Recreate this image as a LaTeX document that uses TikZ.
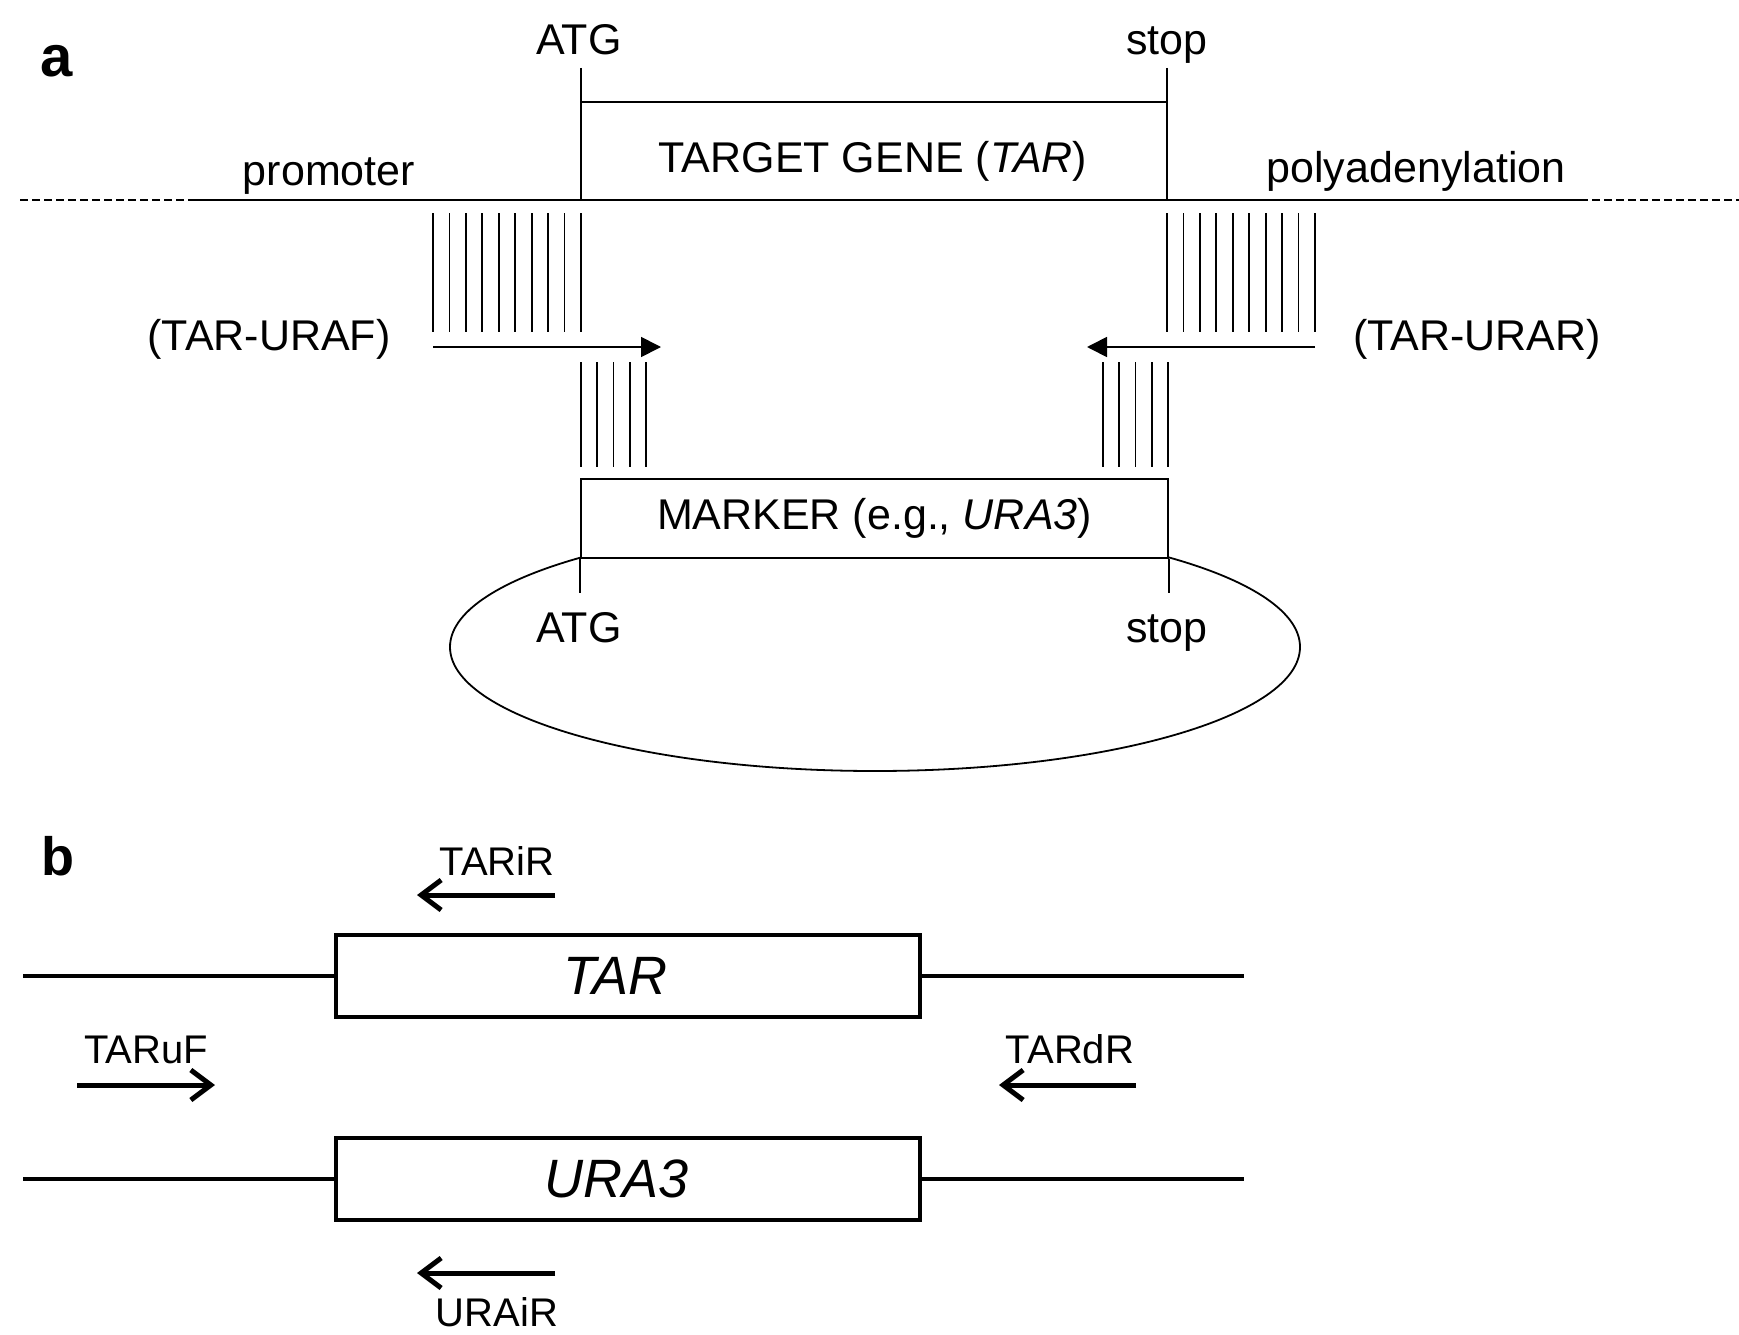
\documentclass[tikz,border=0pt]{standalone}
\usepackage{fontspec}
\setmainfont{Liberation Sans}
\usetikzlibrary{arrows.meta, positioning}
\tikzset{
  lbl/.style={
    inner sep=0pt,
    anchor=base,
    font=\fontsize{43}{50}\selectfont
  },
  primerlbl/.style={
    lbl,
    font=\fontsize{40}{46}\selectfont
  },
  panellbl/.style={
    inner sep=0pt,
    anchor=base,
    font=\bfseries\fontsize{58}{64}\selectfont
  },
  dnaline/.style={
    line width=1.8pt
  },
  hatchline/.style={
    line width=1.8pt
  },
  thickline/.style={
    line width=3.5pt
  },
  markerbox/.style={
    draw,
    fill=white,
    line width=1.8pt,
    inner sep=0pt,
    minimum width=587pt,
    minimum height=79pt,
    font=\fontsize{43}{50}\selectfont
  },
  genebox/.style={
    draw,
    fill=white,
    line width=3.5pt,
    inner sep=0pt,
    minimum width=584pt,
    minimum height=82pt,
    font=\itshape\fontsize{54}{60}\selectfont
  },
  primerarrow/.style={
    -{Triangle[length=20pt, width=20pt]},
    line width=1.8pt
  },
  oligoarrow/.style={
    -{Straight Barb[length=20pt, width=30pt]},
    line width=5pt
  }
}

\begin{document}
\begin{tikzpicture}[x=1pt, y=-1pt]
\useasboundingbox (0,0) rectangle (1739,1335);

% panel a
\node[panellbl] (pa) at (57,77) {a};

\node[lbl] (atgtop) at (579,55) {ATG};
\node[lbl] (stoptop) at (1167,55) {stop};

\coordinate (atgA) at (581,68);
\coordinate (atgB) at (581,200);
\coordinate (stopA) at (1167,68);
\coordinate (stopB) at (1167,200);
\coordinate (chrL) at (20,200);
\coordinate (chrl) at (190,200);
\coordinate (chrr) at (1580,200);
\coordinate (chrR) at (1739,200);

\draw[dnaline] (atgA) -- (atgB);
\draw[dnaline] (stopA) -- (stopB);
\draw[dnaline] (581,102) -- (1167,102);
\draw[dnaline] (chrl) -- (chrr);
\draw[dnaline, dash pattern=on 8pt off 4pt] (chrL) -- (chrl);
\draw[dnaline, dash pattern=on 8pt off 4pt] (chrr) -- (chrR);

\node[lbl] (promoter) at (329,185) {promoter};
\node[lbl] (target) at (873,172) {TARGET GENE (\textit{TAR})};
\node[lbl] (polya) at (1416,182) {polyadenylation};

% homology regions
\foreach \i in {0,...,9} {
  \draw[hatchline] (433+16.44*\i,213) -- ++(0,119);
  \draw[hatchline] (1167+16.44*\i,213) -- ++(0,119);
}
\foreach \i in {0,...,4} {
  \draw[hatchline] (581+16.25*\i,362) -- ++(0,105);
  \draw[hatchline] (1103+16.25*\i,362) -- ++(0,105);
}

\coordinate (urafS) at (433,347);
\coordinate (urafE) at (661,347);
\coordinate (urarS) at (1315,347);
\coordinate (urarE) at (1087,347);
\draw[primerarrow] (urafS) -- (urafE);
\draw[primerarrow] (urarS) -- (urarE);
\node[lbl] (uraf) at (269,350) {(TAR-URAF)};
\node[lbl] (urar) at (1477,350) {(TAR-URAR)};

% plasmid with marker
\draw[dnaline] (875,647) ellipse [x radius=425, y radius=124];
\node[markerbox] (marker) at (874.5,518.5) {MARKER (e.g., \textit{URA3})};
\draw[dnaline] (marker.south west) -- ++(0,34);
\draw[dnaline] (marker.south east) -- ++(0,34);
\node[lbl] (atgbot) at (579,642) {ATG};
\node[lbl] (stopbot) at (1167,642) {stop};

% panel b
\node[panellbl, font=\bfseries\fontsize{54}{60}\selectfont] (pb) at (58,875) {b};

\node[genebox] (tarbox) at (628,976) {\hspace*{-26pt}TAR};
\node[genebox] (urabox) at (628,1179) {\hspace*{-22pt}URA3};

\coordinate (tarL) at (23,976);
\coordinate (tarR) at (1244,976);
\coordinate (uraL) at (23,1179);
\coordinate (uraR) at (1244,1179);
\draw[thickline] (tarL) -- (tarbox.west);
\draw[thickline] (tarbox.east) -- (tarR);
\draw[thickline] (uraL) -- (urabox.west);
\draw[thickline] (urabox.east) -- (uraR);

\coordinate (tariS) at (555,895);
\coordinate (tariE) at (417,895);
\coordinate (taruS) at (77,1085);
\coordinate (taruE) at (215,1085);
\coordinate (tardS) at (1136,1085);
\coordinate (tardE) at (999,1085);
\coordinate (uraiS) at (555,1273);
\coordinate (uraiE) at (417,1273);
\draw[oligoarrow] (tariS) -- (tariE);
\draw[oligoarrow] (taruS) -- (taruE);
\draw[oligoarrow] (tardS) -- (tardE);
\draw[oligoarrow] (uraiS) -- (uraiE);

\node[primerlbl] (tarir) at (497,875) {TARiR};
\node[primerlbl] (taruf) at (146,1063) {TARuF};
\node[primerlbl] (tardr) at (1070,1063) {TARdR};
\node[primerlbl] (urair) at (497,1326) {URAiR};

\end{tikzpicture}
\end{document}
